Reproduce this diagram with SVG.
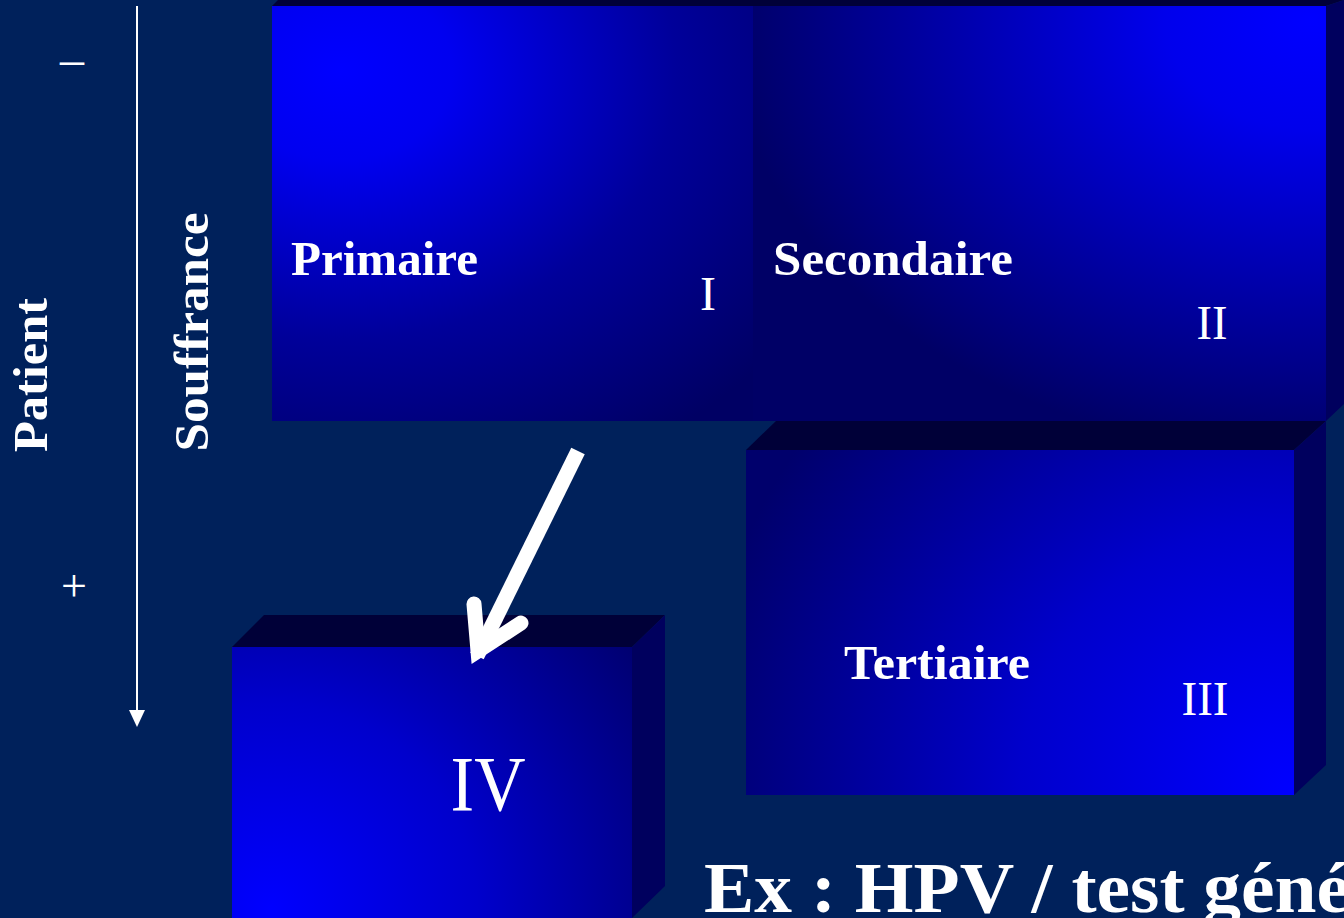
<svg xmlns="http://www.w3.org/2000/svg" width="1344" height="918" viewBox="0 0 1344 918">
<defs>
<style>
.top{fill:#000038}
.side{fill:#00005E}
.lbl{font-family:"Liberation Serif","DejaVu Serif",serif;font-weight:bold;fill:#FFFFFF}
.num{font-family:"Liberation Serif","DejaVu Serif",serif;fill:#FFFFFF}
</style>
<radialGradient id="gP" gradientUnits="userSpaceOnUse" cx="340" cy="70" r="560" gradientTransform="translate(340,70) scale(1,0.8) translate(-340,-70)">
<stop offset="0" stop-color="#0000FF"/><stop offset="0.2" stop-color="#0000F0"/><stop offset="0.6" stop-color="#00009A"/><stop offset="1" stop-color="#000064"/>
</radialGradient>
<radialGradient id="gS" gradientUnits="userSpaceOnUse" cx="1310" cy="20" r="580" gradientTransform="translate(1310,20) scale(1,0.75) translate(-1310,-20)">
<stop offset="0" stop-color="#0000FF"/><stop offset="0.25" stop-color="#0000EC"/><stop offset="0.65" stop-color="#0000A4"/><stop offset="1" stop-color="#000066"/>
</radialGradient>
<radialGradient id="gT" gradientUnits="userSpaceOnUse" cx="1290" cy="790" r="600">
<stop offset="0" stop-color="#0000FF"/><stop offset="0.45" stop-color="#0000CC"/><stop offset="1" stop-color="#00006C"/>
</radialGradient>
<radialGradient id="gIV" gradientUnits="userSpaceOnUse" cx="270" cy="910" r="460">
<stop offset="0" stop-color="#0000FF"/><stop offset="0.45" stop-color="#0000CC"/><stop offset="1" stop-color="#00006C"/>
</radialGradient>
</defs>
<rect x="0" y="0" width="1344" height="918" fill="#00215B"/>

<g id="axis">
<line x1="137" y1="6" x2="137" y2="712" stroke="#FFFFFF" stroke-width="2"/>
<path d="M129,710 L145,710 L137,727 Z" fill="#FFFFFF"/>
<text class="num" x="72" y="75" font-size="48" text-anchor="middle">–</text>
<text class="num" x="74" y="601" font-size="46" text-anchor="middle">+</text>
<text class="lbl" font-size="48" text-anchor="middle" textLength="154" lengthAdjust="spacingAndGlyphs" transform="translate(47,375) rotate(-90)">Patient</text>
<text class="lbl" font-size="48" text-anchor="middle" textLength="239" lengthAdjust="spacingAndGlyphs" transform="translate(208,332) rotate(-90)">Souffrance</text>
</g>

<g id="box-top">
<polygon class="top" points="272,6 278,0 1344,0 1326,6"/>
<polygon class="side" points="1326,6 1344,0 1344,404 1326,421"/>
</g>

<g id="node-primaire">
<rect x="272" y="6" width="481" height="415" fill="url(#gP)"/>
<text class="lbl" x="291" y="275" font-size="48" textLength="187" lengthAdjust="spacingAndGlyphs">Primaire</text>
<text class="num" x="708" y="310" font-size="48" text-anchor="middle">I</text>
</g>

<g id="node-secondaire">
<rect x="753" y="6" width="573" height="415" fill="url(#gS)"/>
<text class="lbl" x="773" y="275" font-size="48" textLength="240" lengthAdjust="spacingAndGlyphs">Secondaire</text>
<text class="num" x="1212" y="339" font-size="48" text-anchor="middle" textLength="31" lengthAdjust="spacingAndGlyphs">II</text>
</g>

<g id="node-tertiaire">
<polygon class="top" points="746,450 776,421 1326,421 1294,450"/>
<polygon class="side" points="1294,450 1326,421 1326,765 1294,795"/>
<rect x="746" y="450" width="548" height="345" fill="url(#gT)"/>
<text class="lbl" x="844" y="679" font-size="48" textLength="186" lengthAdjust="spacingAndGlyphs">Tertiaire</text>
<text class="num" x="1205" y="715" font-size="48" text-anchor="middle" textLength="47" lengthAdjust="spacingAndGlyphs">III</text>
</g>

<g id="node-iv">
<polygon class="top" points="232,647 264,615 665,615 632,647"/>
<polygon class="side" points="632,647 665,615 665,886 632,918"/>
<rect x="232" y="647" width="400" height="271" fill="url(#gIV)"/>
<text class="num" x="488" y="810" font-size="78" text-anchor="middle" textLength="75" lengthAdjust="spacingAndGlyphs">IV</text>
</g>

<g id="connectors">
<line x1="578" y1="451" x2="477" y2="656" stroke="#FFFFFF" stroke-width="15"/>
<polyline points="474,604 478,651 521,623" fill="none" stroke="#FFFFFF" stroke-width="15" stroke-linecap="round" stroke-linejoin="miter" stroke-miterlimit="6"/>
</g>

<g id="caption">
<text class="lbl" x="704" y="912" font-size="72" textLength="646" lengthAdjust="spacingAndGlyphs">Ex : HPV / test géné</text>
</g>
</svg>
